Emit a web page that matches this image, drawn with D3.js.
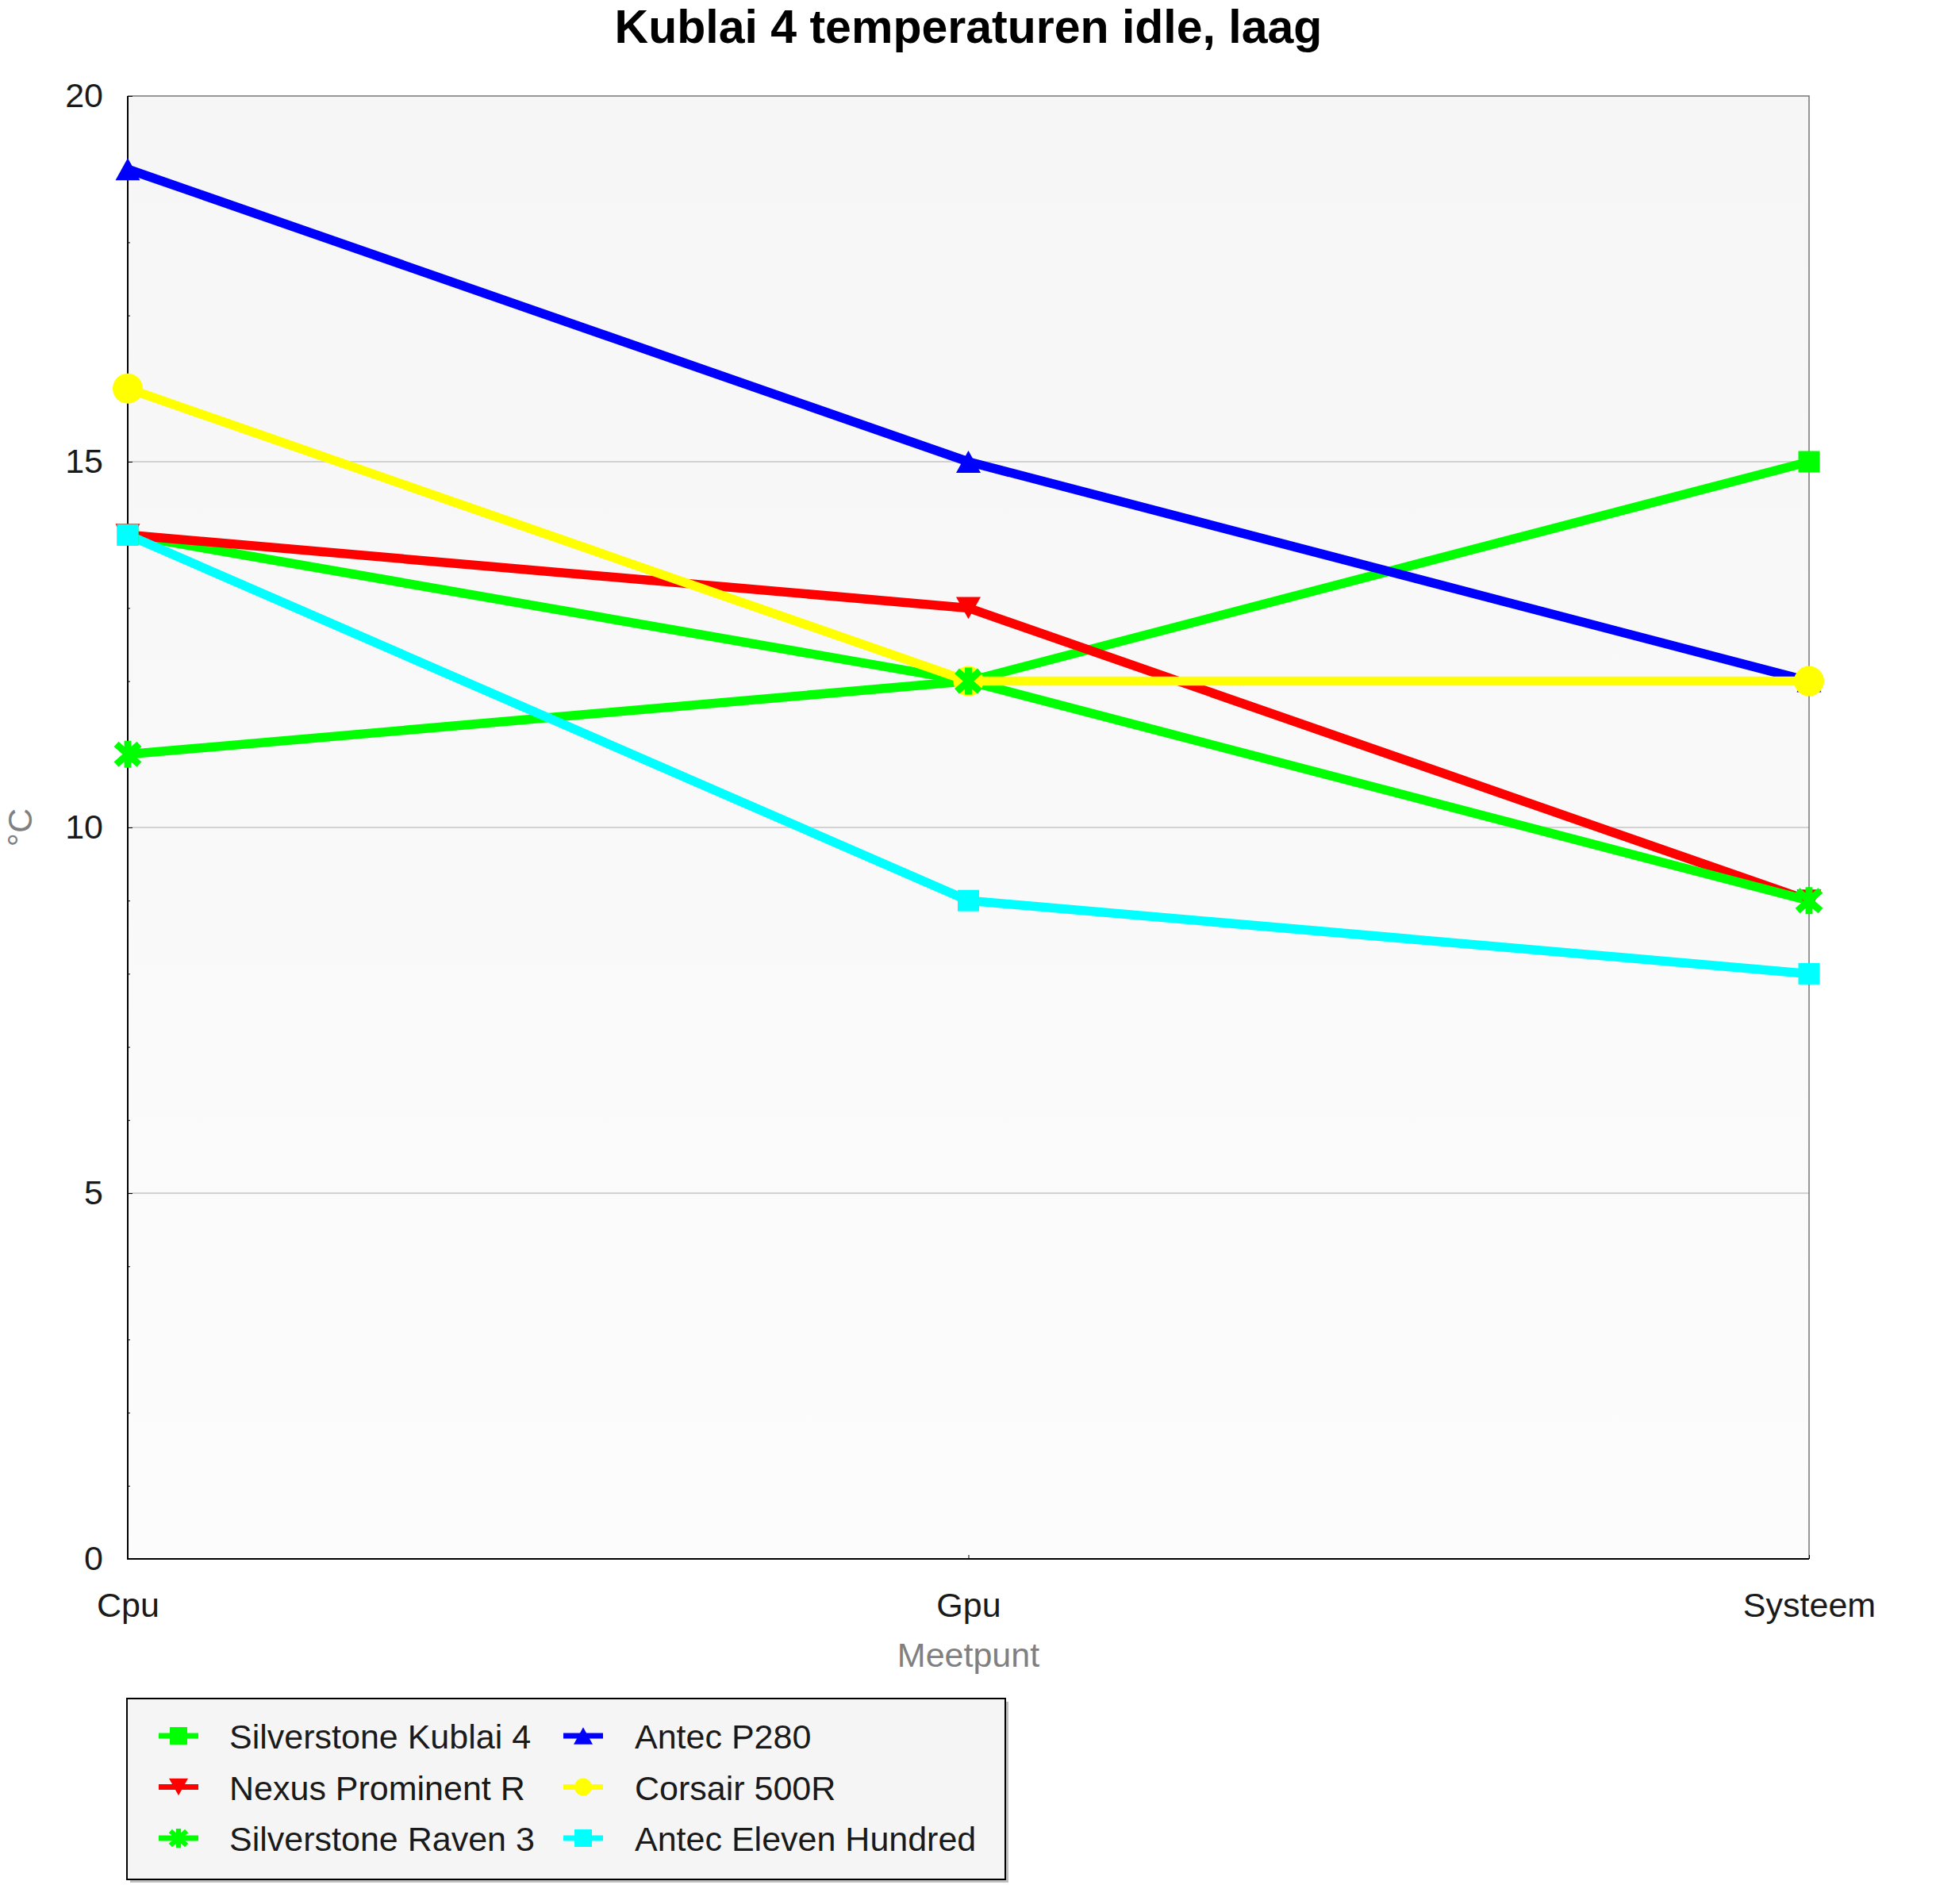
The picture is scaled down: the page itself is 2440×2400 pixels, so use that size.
<!DOCTYPE html>
<html>
<head>
<meta charset="utf-8">
<script src="https://cdn.jsdelivr.net/npm/d3@7"></script>
<style>
  body { margin: 0; background: #fff; }
  text { font-family: 'Liberation Sans', Arial, sans-serif; }
</style>
</head>
<body>
<svg class="chart"></svg>
<script>
'use strict'

// data
const categories = ['Cpu', 'Gpu', 'Systeem']
const seriesNames = ['Silverstone Kublai 4', 'Nexus Prominent R', 'Silverstone Raven 3',
  'Antec P280', 'Corsair 500R', 'Antec Eleven Hundred']
const kublai4 = [14, 12, 15]
const nexusProminentR = [14, 13, 9]
const raven3 = [11, 12, 9]
const antecP280 = [19, 15, 12]
const corsair500R = [16, 12, 12]
const elevenHundred = [14, 9, 8]
const yTicks = [0, 5, 10, 15, 20]

const colors = ['#00ff00', '#ff0000', '#00ff00', '#0000ff', '#ffff00', '#00ffff']
const shapes = ['square', 'down', 'asterisk', 'up', 'circle', 'square']
const markerOrder = [0, 1, 3, 4, 2, 5] // z-order of the markers

const series = seriesNames.map((name, i) => ({
  name: name,
  values: [kublai4, nexusProminentR, raven3, antecP280, corsair500R, elevenHundred][i],
  color: colors[i],
  shape: shapes[i]
}))

const W = 2440
const H = 2400
const plot = { left: 161, right: 2280, top: 121, bottom: 1965 }
const fontSize = 43

/**
 * Path for one marker, centred on 0,0
 * @param {string} shape marker type
 * @param {number} s marker size in px
 */
function markerPath (shape, s) {
  const h = s / 2
  if (shape === 'square') return `M${-h},${-h}H${h}V${h}H${-h}Z`
  if (shape === 'up') return `M0,${-h * 0.9}L${h},${h * 0.9}L${-h},${h * 0.9}Z`
  if (shape === 'down') return `M0,${h * 0.9}L${h},${-h * 0.9}L${-h},${-h * 0.9}Z`
  if (shape === 'circle') return d3.symbol(d3.symbolCircle, Math.PI * h * h)()
  // asterisk: vertical bar plus two diagonals
  const dx = h * 0.85
  const dy = h * 0.75
  return `M0,${-h}V${h}M${-dx},${-dy}L${dx},${dy}M${-dx},${dy}L${dx},${-dy}`
}

function drawMarker (g, shape, color, s, x, y) {
  const p = g.append('path')
    .attr('d', markerPath(shape, s))
    .attr('transform', `translate(${x},${y})`)
  if (shape === 'asterisk') {
    p.attr('fill', 'none').attr('stroke', color).attr('stroke-width', s * 0.26)
  } else {
    p.attr('fill', color)
  }
}

const svg = d3.select('.chart')
  .attr('width', W)
  .attr('height', H)

const x = d3.scalePoint().domain(categories).range([plot.left, plot.right])
const y = d3.scaleLinear().domain([0, 20]).range([plot.bottom, plot.top])

// plot background
const grad = svg.append('defs').append('linearGradient')
  .attr('id', 'bg').attr('x1', 0).attr('y1', 0).attr('x2', 0).attr('y2', 1)
grad.append('stop').attr('offset', '0%').attr('stop-color', '#f6f6f6')
grad.append('stop').attr('offset', '100%').attr('stop-color', '#fcfcfc')

svg.append('rect')
  .attr('x', plot.left).attr('y', plot.top)
  .attr('width', plot.right - plot.left).attr('height', plot.bottom - plot.top)
  .attr('fill', 'url(#bg)')

// grid lines
svg.append('g').selectAll('line')
  .data(yTicks.filter(d => d > 0 && d < 20))
  .enter().append('line')
  .attr('x1', plot.left).attr('x2', plot.right)
  .attr('y1', d => y(d)).attr('y2', d => y(d))
  .attr('stroke', '#c4c4c4').attr('stroke-width', 1.5)

// frame: grey top/right, black left/bottom
svg.append('path')
  .attr('d', `M${plot.left},${plot.top}H${plot.right}V${plot.bottom}`)
  .attr('fill', 'none').attr('stroke', '#777').attr('stroke-width', 1.5)
svg.append('path')
  .attr('d', `M${plot.left},${plot.top}V${plot.bottom}H${plot.right}`)
  .attr('fill', 'none').attr('stroke', '#000').attr('stroke-width', 2)

// y axis
const yAxis = svg.append('g')
  .attr('transform', `translate(${plot.left},0)`)
  .call(d3.axisLeft(y).tickValues(yTicks).tickSize(-6).tickPadding(31))
yAxis.select('.domain').remove()
yAxis.selectAll('text').attr('font-size', fontSize).attr('fill', '#1a1a1a')
  .attr('font-family', "'Liberation Sans', Arial, sans-serif")
yAxis.selectAll('line').attr('stroke', '#000')

// minor ticks
const yMinor = svg.append('g')
  .attr('transform', `translate(${plot.left},0)`)
  .call(d3.axisLeft(y).tickValues(d3.range(0, 21).filter(d => d % 5 !== 0))
    .tickSize(-3).tickFormat(''))
yMinor.select('.domain').remove()
yMinor.selectAll('line').attr('stroke', '#000')

// x axis
const xAxis = svg.append('g')
  .attr('transform', `translate(0,${plot.bottom})`)
  .call(d3.axisBottom(x).tickSize(-5).tickPadding(42))
xAxis.select('.domain').remove()
xAxis.selectAll('text').attr('font-size', fontSize).attr('fill', '#1a1a1a')
  .attr('font-family', "'Liberation Sans', Arial, sans-serif")
xAxis.selectAll('line').attr('stroke', '#000')

// axis titles
svg.append('text')
  .attr('x', (plot.left + plot.right) / 2).attr('y', 2101)
  .attr('text-anchor', 'middle').attr('font-size', fontSize).attr('fill', '#808080')
  .text('Meetpunt')
svg.append('text')
  .attr('transform', `translate(40,${(plot.top + plot.bottom) / 2}) rotate(-90)`)
  .attr('text-anchor', 'middle').attr('font-size', fontSize).attr('fill', '#808080')
  .text('°C')

// title
svg.append('text')
  .attr('x', (plot.left + plot.right) / 2).attr('y', 54)
  .attr('text-anchor', 'middle').attr('font-size', 59).attr('font-weight', 'bold')
  .attr('fill', '#000')
  .text('Kublai 4 temperaturen idle, laag')

// lines
const line = d3.line().x((d, i) => x(categories[i])).y(d => y(d))
svg.append('g').selectAll('path')
  .data(series)
  .enter().append('path')
  .attr('d', d => line(d.values))
  .attr('fill', 'none')
  .attr('stroke', d => d.color)
  .attr('stroke-width', 11.5)
  .attr('stroke-linejoin', 'round')

// markers
const markerSize = { square: 27, up: 31, down: 31, circle: 38, asterisk: 34 }
const mg = svg.append('g')
markerOrder.forEach(i => {
  const s = series[i]
  s.values.forEach((v, j) => {
    drawMarker(mg, s.shape, s.color, markerSize[s.shape], x(categories[j]), y(v))
  })
})

// legend
const lg = svg.append('g')
lg.append('rect')
  .attr('x', 164).attr('y', 2145).attr('width', 1107).attr('height', 228)
  .attr('fill', '#c0c0c0')
lg.append('rect')
  .attr('x', 160).attr('y', 2141).attr('width', 1107).attr('height', 228)
  .attr('fill', '#f5f5f5').attr('stroke', '#000').attr('stroke-width', 2)

const legendSize = { square: 22, up: 24, down: 24, circle: 22, asterisk: 24 }
series.forEach((s, i) => {
  const col = i < 3 ? 0 : 1
  const row = i % 3
  const lx = col === 0 ? 200 : 710
  const tx = col === 0 ? 289 : 800
  const cy = 2188 + row * 64.5
  lg.append('line')
    .attr('x1', lx).attr('x2', lx + 50)
    .attr('y1', cy).attr('y2', cy)
    .attr('stroke', s.color).attr('stroke-width', 7)
  drawMarker(lg, s.shape, s.color, legendSize[s.shape], lx + 25, cy)
  lg.append('text')
    .attr('x', tx).attr('y', cy + 16)
    .attr('font-size', fontSize).attr('fill', '#1a1a1a')
    .text(s.name)
})
</script>
</body>
</html>
